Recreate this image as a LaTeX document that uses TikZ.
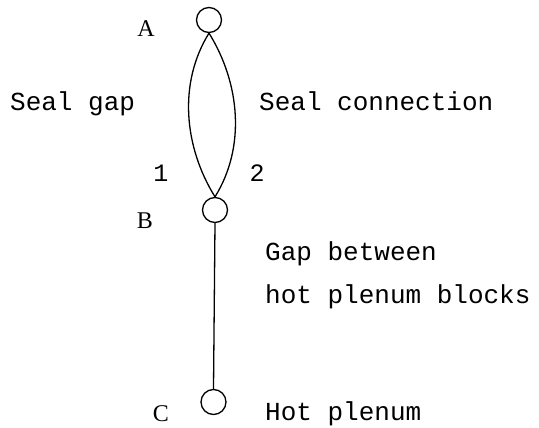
\documentclass[tikz,border=0pt]{standalone}
\usepackage{fontspec}
\setmainfont{Liberation Serif}
\newfontfamily\monof{Liberation Mono}
\begin{document}
\begin{tikzpicture}[x=1pt,y=-1pt,
  vtx/.style={draw,circle,line width=1.3pt,minimum size=25pt,inner sep=0pt},
  lbl/.style={font=\monof\fontsize{26}{26}\selectfont,anchor=base west,inner sep=0pt},
  ltr/.style={font=\fontsize{24}{24}\selectfont,anchor=base,inner sep=0pt},
  dig/.style={font=\monof\fontsize{25}{25}\selectfont,anchor=base,inner sep=0pt},
  edge/.style={line width=1.3pt}]
\useasboundingbox (0,0) rectangle (539,428);
\node[vtx] (A) at (209,20) {};
\node[vtx] (B) at (215,210) {};
\node[vtx] (C) at (213.5,402) {};
\draw[edge] (A.south) .. controls +(-31,50) and +(-31,-50) .. (B.north);
\draw[edge] (A.south) .. controls +(31,50) and +(31,-50) .. (B.north);
\draw[edge] (B.south) -- (C.north);
\node[ltr] (lA) at (146,37) {A};
\node[ltr] (lB) at (145,229) {B};
\node[ltr] (lC) at (161,421) {C};
\node[dig] (l1) at (161,182) {1};
\node[dig] (l2) at (257,182) {2};
\node[lbl] (sg) at (10,111) {Seal gap};
\node[lbl] (sc) at (259,111) {Seal connection};
\node[lbl] (gb) at (265,260) {Gap between};
\node[lbl] (hb) at (265,303) {hot plenum blocks};
\node[lbl] (hp) at (265,420) {Hot plenum};
\end{tikzpicture}
\end{document}
